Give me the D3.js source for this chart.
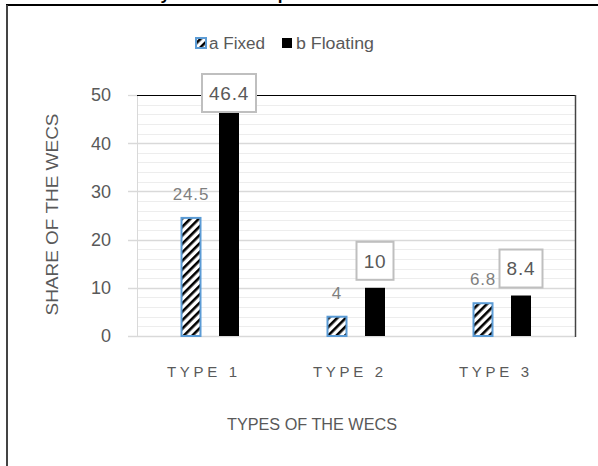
<!DOCTYPE html>
<html><head><meta charset="utf-8">
<script src="https://cdn.jsdelivr.net/npm/d3@7"></script>
<style>body{margin:0;background:#fff;} svg{display:block;}</style>
</head><body>
<script>
const categories = ["TYPE 1", "TYPE 2", "TYPE 3"];
const seriesNames = ["a Fixed", "b Floating"];
const fixedValues = [24.5, 4, 6.8];
const floatingValues = [46.4, 10, 8.4];
const yTicks = [0, 10, 20, 30, 40, 50];
const yTitle = "SHARE OF THE WECS";
const xTitle = "TYPES OF THE WECS";
const chartTitle = "Location of Layout of WECS per Assessed Offshore Wind Farm";

const W = 598, H = 466;
const svg = d3.select("body").append("svg").attr("width", W).attr("height", H);
const font = "'Liberation Sans', Arial, sans-serif";

const defs = svg.append("defs");
const pat = defs.append("pattern").attr("id", "hatch").attr("patternUnits", "userSpaceOnUse")
  .attr("width", 6).attr("height", 6).attr("patternTransform", "rotate(45)");
pat.append("rect").attr("width", 6).attr("height", 6).attr("fill", "#fff");
pat.append("rect").attr("x", 0).attr("y", 0).attr("width", 2.6).attr("height", 6).attr("fill", "#000");

// cut-off title (only its lowest pixels show, as in the reference)
svg.append("text").attr("x", 300).attr("y", -0.5).attr("text-anchor", "middle")
  .attr("font-family", font).attr("font-weight", "bold").attr("font-size", 17).attr("fill", "#000")
  .text(chartTitle);

// outer border
svg.append("line").attr("x1", 6).attr("x2", W).attr("y1", 5).attr("y2", 5).attr("stroke", "#000").attr("stroke-width", 2);
svg.append("line").attr("x1", 7).attr("x2", 7).attr("y1", 5).attr("y2", H).attr("stroke", "#444").attr("stroke-width", 2);

const x0 = 137, x1 = 575, yTop = 95, yBot = 336;
const x = d3.scaleBand().domain(categories).range([x0, x1]);
const y = d3.scaleLinear().domain([0, 50]).range([yBot, yTop]);

const g = svg.append("g");
const minor = d3.range(2, 50, 2).filter(v => v % 10 !== 0);
g.selectAll(".minor").data(minor).join("line")
  .attr("x1", x0).attr("x2", x1).attr("y1", d => Math.round(y(d)) + 0.5).attr("y2", d => Math.round(y(d)) + 0.5)
  .attr("stroke", "#ededed").attr("stroke-width", 1);
g.selectAll(".major").data(yTicks.filter(v => v > 0 && v < 50)).join("line")
  .attr("x1", x0 - 9).attr("x2", x1).attr("y1", d => Math.round(y(d)) + 0.5).attr("y2", d => Math.round(y(d)) + 0.5)
  .attr("stroke", "#d9d9d9").attr("stroke-width", 1.3);
g.append("line").attr("x1", x0 - 9).attr("x2", x1).attr("y1", yBot + 0.5).attr("y2", yBot + 0.5).attr("stroke", "#d9d9d9").attr("stroke-width", 1.3);
g.append("line").attr("x1", x0 - 9).attr("x2", x0).attr("y1", yTop + 0.5).attr("y2", yTop + 0.5).attr("stroke", "#d9d9d9").attr("stroke-width", 1.3);
g.append("line").attr("x1", x0 + 0.5).attr("x2", x0 + 0.5).attr("y1", yTop).attr("y2", yBot).attr("stroke", "#d9d9d9").attr("stroke-width", 1);
g.append("line").attr("x1", x0).attr("x2", x1).attr("y1", yTop + 0.5).attr("y2", yTop + 0.5).attr("stroke", "#000").attr("stroke-width", 1.2);
g.append("line").attr("x1", x1 + 0.5).attr("x2", x1 + 0.5).attr("y1", yTop).attr("y2", yBot + 1).attr("stroke", "#444").attr("stroke-width", 1.5);

g.selectAll(".yt").data(yTicks).join("text")
  .attr("x", 111).attr("y", d => y(d)).attr("dy", "0.35em").attr("text-anchor", "end")
  .attr("font-family", font).attr("font-size", 18).attr("fill", "#595959").text(d => d);

svg.append("text").attr("transform", `translate(58,${(yTop + yBot) / 2 - 1}) rotate(-90)`)
  .attr("text-anchor", "middle").attr("font-family", font).attr("font-size", 17).attr("fill", "#595959")
  .attr("textLength", 202).attr("lengthAdjust", "spacingAndGlyphs").text(yTitle);

g.selectAll(".xt").data(categories).join("text")
  .attr("x", d => x(d) + x.bandwidth() / 2 - 8).attr("y", 377).attr("text-anchor", "middle")
  .attr("font-family", font).attr("font-size", 15).attr("fill", "#595959")
  .attr("textLength", 70).attr("lengthAdjust", "spacing").text(d => d);

svg.append("text").attr("x", 312).attr("y", 430).attr("text-anchor", "middle")
  .attr("font-family", font).attr("font-size", 16).attr("fill", "#595959")
  .attr("textLength", 170).attr("lengthAdjust", "spacingAndGlyphs").text(xTitle);

const bw = 20, off = 19;
g.selectAll(".fx").data(fixedValues).join("rect")
  .attr("x", (d, i) => x(categories[i]) + x.bandwidth() / 2 - off - bw / 2 + 0.5)
  .attr("y", d => y(d)).attr("width", bw - 1).attr("height", d => yBot - y(d))
  .attr("fill", "url(#hatch)").attr("stroke", "#5b9bd5").attr("stroke-width", 2);
g.selectAll(".fl").data(floatingValues).join("rect")
  .attr("x", (d, i) => x(categories[i]) + x.bandwidth() / 2 + off - bw / 2)
  .attr("y", d => y(d)).attr("width", bw).attr("height", d => yBot - y(d)).attr("fill", "#000");

g.selectAll(".fxl").data(fixedValues).join("text")
  .attr("x", (d, i) => x(categories[i]) + x.bandwidth() / 2 - off)
  .attr("y", d => y(d) - 18).attr("text-anchor", "middle")
  .attr("font-family", font).attr("font-size", 17).attr("letter-spacing", "0.8px").attr("fill", "#7f7f7f").text(d => d);

const boxH = 38;
floatingValues.forEach((d, i) => {
  const cx = x(categories[i]) + x.bandwidth() / 2 + off;
  const txt = String(d);
  const top = Math.max(74, y(d) - 8 - boxH);
  const rect = g.append("rect").attr("y", top).attr("height", boxH)
    .attr("fill", "#fff").attr("stroke", "#bfbfbf").attr("stroke-width", 2);
  const t = g.append("text").attr("x", cx).attr("y", top + boxH / 2).attr("dy", "0.36em").attr("text-anchor", "middle")
    .attr("font-family", font).attr("font-size", 19).attr("letter-spacing", "0.8px").attr("fill", "#595959").text(txt);
  const tw = t.node().getBBox().width;
  const bwid = Math.round(tw + 14);
  rect.attr("x", cx - bwid / 2).attr("width", bwid);
});

const lg = svg.append("g");
lg.append("rect").attr("x", 196).attr("y", 38).attr("width", 10).attr("height", 10)
  .attr("fill", "url(#hatch)").attr("stroke", "#5b9bd5").attr("stroke-width", 2);
lg.append("text").attr("x", 209).attr("y", 49).attr("font-family", font).attr("font-size", 16)
  .attr("fill", "#595959").attr("textLength", 56).attr("lengthAdjust", "spacingAndGlyphs").text(seriesNames[0]);
lg.append("rect").attr("x", 282).attr("y", 38).attr("width", 10).attr("height", 10).attr("fill", "#000");
lg.append("text").attr("x", 296).attr("y", 49).attr("font-family", font).attr("font-size", 16)
  .attr("fill", "#595959").attr("textLength", 78).attr("lengthAdjust", "spacingAndGlyphs").text(seriesNames[1]);
</script>
</body></html>
